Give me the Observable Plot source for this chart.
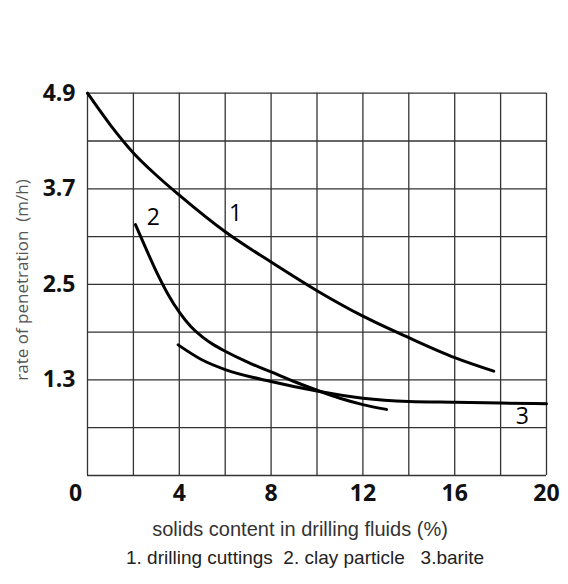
<!DOCTYPE html>
<html><head><meta charset="utf-8">
<script src="https://cdn.jsdelivr.net/npm/d3@7"></script>
<script src="https://cdn.jsdelivr.net/npm/@observablehq/plot@0.6"></script>
<style>
body{margin:0;background:#fff;}
#cap{font-family:"Liberation Sans",Arial,sans-serif;font-size:19px;color:#222;white-space:pre;text-align:center;width:568px;box-sizing:border-box;padding-left:42px;line-height:26px;}
</style></head><body>
<div id="chart"></div>
<div id="cap"></div>
<script>
// tick labels and grid positions
const xTicks = [4, 8, 12, 16, 20];
const xZeroTick = [0];
const yTicks = [4.9, 3.7, 2.5, 1.3];
const xGrid = [0, 2, 4, 6, 8, 10, 12, 14, 16, 18, 20];
const yGrid = [0.1, 0.7, 1.3, 1.9, 2.5, 3.1, 3.7, 4.3, 4.9];

// curve 1: drilling cuttings
const c1x = [0, 1, 2, 3, 4, 6, 8, 10, 12, 14, 16, 17.7];
const c1y = [4.9, 4.5, 4.15, 3.87, 3.62, 3.16, 2.78, 2.42, 2.1, 1.83, 1.58, 1.41];
// curve 2: clay particle
const c2x = [2.09, 2.5, 3, 3.5, 4, 4.5, 5, 5.5, 6, 7, 8, 9, 10, 11, 12, 13.03];
const c2y = [3.25, 2.98, 2.66, 2.38, 2.15, 1.97, 1.84, 1.74, 1.66, 1.52, 1.4, 1.28, 1.17, 1.07, 0.99, 0.93];
// curve 3: barite
const c3x = [3.95, 5, 6, 8, 10, 12, 14, 16, 18, 20];
const c3y = [1.74, 1.55, 1.43, 1.28, 1.16, 1.07, 1.03, 1.02, 1.01, 1.0];

const curveNames = ["1", "2", "3"];
const curveLabelX = [6.45, 2.87, 18.95];
const curveLabelY = [3.39, 3.34, 0.84];

const xLabel = "solids content in drilling fluids (%)";
const yLabel = "rate of penetration\u00a0 (m/h)";
const caption = "1. drilling cuttings  2. clay particle   3.barite";

const toPts = (xs, ys) => xs.map((x, i) => ({x, y: ys[i]}));
const labels = curveNames.map((t, i) => ({t, x: curveLabelX[i], y: curveLabelY[i]}));

const gridStyle = {stroke: "#333", strokeWidth: 1.3};
const tickFont = {fontFamily: "Open Sans, sans-serif", fontSize: 23, fontWeight: "bold", fill: "#111"};
const lineStyle = {x: "x", y: "y", curve: "monotone-x", stroke: "#000", strokeWidth: 3, strokeLinecap: "round"};

const chart = Plot.plot({
  width: 568,
  height: 545,
  marginTop: 92.7,
  marginBottom: 70,
  marginLeft: 87,
  marginRight: 22,
  x: {domain: [0, 20]},
  y: {domain: [0.1, 4.9]},
  style: {background: "#fff"},
  marks: [
    Plot.ruleX(xGrid, gridStyle),
    Plot.ruleY(yGrid, gridStyle),
    Plot.line(toPts(c1x, c1y), lineStyle),
    Plot.line(toPts(c2x, c2y), lineStyle),
    Plot.line(toPts(c3x, c3y), lineStyle),
    Plot.text(labels, {x: "x", y: "y", text: "t", fontSize: 23, fontWeight: 500, fontFamily: "Open Sans, sans-serif", fill: "#000"}),
    Plot.axisX({ticks: xTicks, tickSize: 0, tickPadding: 9, label: null, ...tickFont}),
    Plot.axisX({ticks: xZeroTick, tickSize: 0, tickPadding: 9, label: null, dx: -12, ...tickFont}),
    Plot.axisY({ticks: yTicks, tickSize: 0, tickPadding: 12, label: null, tickFormat: d => d.toFixed(1), ...tickFont}),
    Plot.text([xLabel], {frameAnchor: "bottom", dy: 60, dx: -17, fontSize: 20, fill: "#333", fontFamily: "Liberation Sans, Arial, sans-serif"}),
    Plot.text([yLabel], {frameAnchor: "left", textAnchor: "middle", dx: -65, dy: -4.4, rotate: -90, fontSize: 17, fill: "#555", fontFamily: "Open Sans, sans-serif"})
  ]
});
document.getElementById("chart").appendChild(chart);
document.getElementById("cap").textContent = caption;
</script>
</body></html>
